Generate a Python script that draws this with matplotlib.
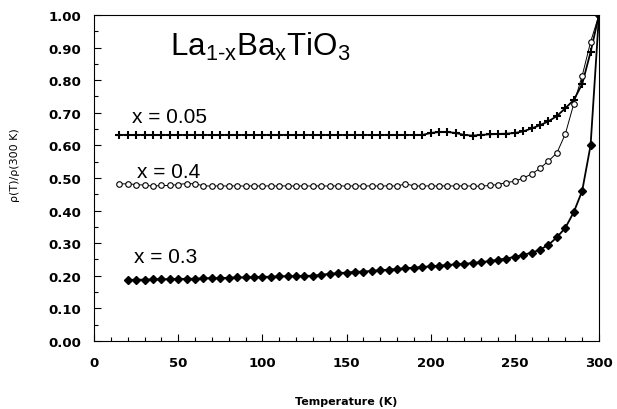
import numpy as np
import matplotlib
matplotlib.use("Agg")
import matplotlib.pyplot as plt
from matplotlib.ticker import MultipleLocator, FormatStrFormatter

plt.rcParams["mathtext.fontset"] = "custom"
plt.rcParams["mathtext.rm"] = "Liberation Sans"
plt.rcParams["mathtext.it"] = "Liberation Sans"

# x = 0.05 (plus markers), 15..300 K
t_005 = np.arange(15, 305, 5)
r_005 = [0.632] * 37 + [0.638, 0.641, 0.641, 0.638, 0.632, 0.630, 0.632,
                        0.634, 0.635, 0.636, 0.638, 0.643, 0.652, 0.662,
                        0.674, 0.690, 0.714, 0.739, 0.788, 0.886, 1.000]

# x = 0.4 (open circles), 15..300 K
t_04 = np.arange(15, 305, 5)
r_04 = ([0.482, 0.482, 0.480, 0.478, 0.475, 0.477, 0.477, 0.480, 0.483, 0.482]
        + [0.476, 0.475, 0.476, 0.475, 0.476, 0.475, 0.476, 0.475,
           0.476, 0.475, 0.476, 0.475, 0.476, 0.475, 0.476, 0.475,
           0.476, 0.475, 0.476, 0.475, 0.476, 0.475, 0.476, 0.475,
           0.482, 0.476, 0.475, 0.476, 0.475, 0.476, 0.475, 0.476]
        + [0.475, 0.475, 0.477, 0.480, 0.486, 0.490, 0.500, 0.512,
           0.530, 0.552, 0.577, 0.635, 0.727, 0.813, 0.917, 1.000])

# x = 0.3 (filled diamonds), 20..300 K
t_03 = np.arange(20, 305, 5)
r_03 = [0.187, 0.188, 0.188, 0.189, 0.189, 0.190, 0.190, 0.191, 0.191, 0.192,
        0.193, 0.193, 0.194, 0.195, 0.195, 0.196, 0.197, 0.197, 0.198, 0.199,
        0.199, 0.200, 0.200, 0.203, 0.206, 0.208, 0.210, 0.212, 0.213, 0.215,
        0.217, 0.219, 0.221, 0.223, 0.225, 0.227, 0.229, 0.231, 0.233, 0.235,
        0.237, 0.239, 0.242, 0.245, 0.249, 0.253, 0.258, 0.264, 0.271, 0.280,
        0.295, 0.318, 0.347, 0.395, 0.460, 0.600, 1.000]

labels = ["x = 0.05", "x = 0.4", "x = 0.3"]

fig = plt.figure(figsize=(6.17, 4.10), dpi=100)
ax = fig.add_axes([0.1524, 0.1659, 0.8184, 0.7951])

ax.plot(t_005, r_005, color="black", lw=1.3, marker="+", ms=5.5, mew=1.5)
ax.plot(t_04, r_04, color="black", lw=0.7, marker="o", ms=4,
        mfc="white", mec="black", mew=0.8)
ax.plot(t_03, r_03, color="black", lw=1.3, marker="D", ms=3.6,
        mfc="black", mec="black")

ax.set_xlim(0, 300)
ax.set_ylim(0, 1.0)
ax.xaxis.set_major_locator(MultipleLocator(50))
ax.xaxis.set_minor_locator(MultipleLocator(10))
ax.yaxis.set_major_locator(MultipleLocator(0.1))
ax.yaxis.set_minor_locator(MultipleLocator(0.05))
ax.yaxis.set_major_formatter(FormatStrFormatter("%.2f"))
ax.tick_params(which="both", direction="in", top=False, right=False,
               width=0.8)
ax.tick_params(which="major", length=5, pad=9)
ax.tick_params(axis="x", which="major", pad=11)
ax.tick_params(which="minor", length=3)
for lab in ax.get_xticklabels() + ax.get_yticklabels():
    lab.set_fontweight("bold")
    lab.set_fontsize(9.5)

ax.text(45, 0.905, "La$_{1\u2010x}$Ba$_{x}$TiO$_{3}$",
        fontsize=22.5, family="Liberation Sans", va="center")
ax.text(22.5, 0.69, labels[0], fontsize=15, family="Liberation Sans",
        va="center")
ax.text(25.5, 0.52, labels[1], fontsize=15, family="Liberation Sans",
        va="center")
ax.text(24, 0.258, labels[2], fontsize=15, family="Liberation Sans",
        va="center")

ax.set_xlabel("Temperature (K)", fontsize=8, fontweight="bold")
ax.xaxis.set_label_coords(0.5, -0.168)
ax.set_ylabel("ρ(T)/ρ(300 K)", fontsize=8)
ax.yaxis.set_label_coords(-0.1465, 0.543)

fig.savefig("out.png", dpi=100)
